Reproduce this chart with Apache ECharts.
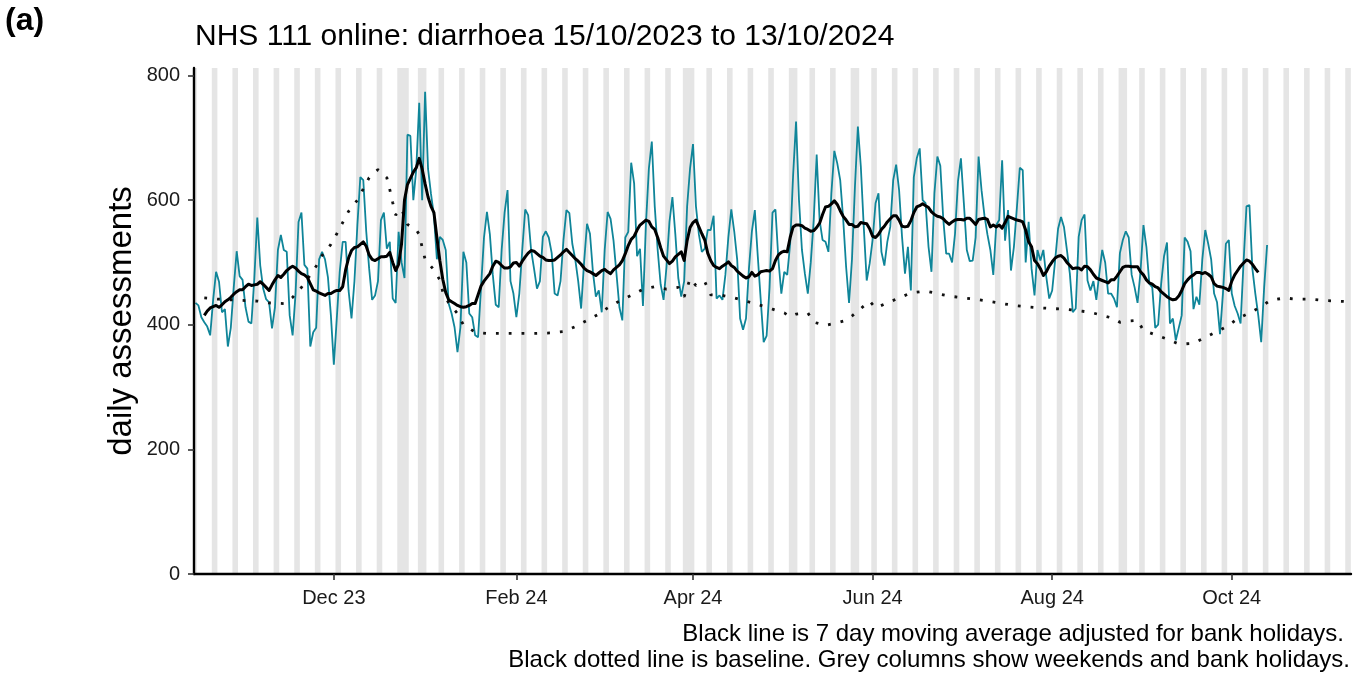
<!DOCTYPE html>
<html><head><meta charset="utf-8">
<script src="https://cdn.jsdelivr.net/npm/echarts@6/dist/echarts.min.js"></script>
<style>html,body{margin:0;padding:0;background:#fff}#chart{width:1360px;height:675px}</style>
</head><body><div id="chart"></div>
<script>
// ---------------- data ----------------
const panelLabel = '(a)';
const titleText = 'NHS 111 online: diarrhoea 15/10/2023 to 13/10/2024';
const yAxisTitle = 'daily assessments';
const captionLines = [
  'Black line is 7 day moving average adjusted for bank holidays.',
  'Black dotted line is baseline. Grey columns show weekends and bank holidays.'
];
const startDate = '2023-10-15';
const dailyAssessments = [
  435,431,412,404,397,383,440,485,469,420,
  425,365,395,460,518,478,472,428,405,402,
  475,572,495,458,441,436,394,428,520,544,
  520,517,415,383,450,565,580,496,490,365,
  388,395,505,517,505,476,415,336,410,485,
  533,533,455,410,470,560,637,632,550,490,
  440,447,470,568,580,522,533,442,435,549,
  500,475,705,703,600,650,756,600,774,650,
  610,575,505,541,536,520,434,418,396,356,
  396,517,500,418,412,383,380,460,540,581,
  545,480,432,428,520,580,616,470,450,412,
  450,520,585,576,520,490,458,470,541,550,
  540,515,450,447,470,536,584,579,530,505,
  470,426,500,562,546,485,445,455,420,520,
  581,570,535,482,428,407,540,549,660,627,
  510,522,430,560,650,694,590,520,465,440,
  493,565,605,545,475,445,470,590,651,690,
  590,545,517,522,552,552,575,442,447,440,
  480,540,585,550,505,410,392,410,490,550,
  584,510,440,372,382,460,580,585,505,450,
  485,480,530,640,726,600,520,482,450,500,
  568,673,568,536,533,517,611,679,659,632,
  570,493,435,505,621,718,654,557,471,498,
  536,595,611,517,495,533,557,632,657,616,
  541,482,525,455,637,667,683,600,595,525,
  485,611,670,655,570,514,514,500,546,630,
  667,595,520,502,503,540,670,616,575,545,
  520,480,560,568,664,535,584,487,525,587,
  652,648,500,565,490,447,520,503,520,477,
  442,455,503,554,573,557,520,482,420,426,
  541,568,577,471,455,470,440,482,520,500,
  450,450,442,428,515,536,550,540,480,460,
  435,485,560,525,466,460,395,400,465,510,
  532,402,410,375,395,415,540,533,518,425,
  445,432,505,552,530,505,450,436,385,450,
  530,536,450,430,418,402,500,590,592,490,
  450,415,372,460,528
];
const movingAverageStart = '2023-10-18';
const movingAverage = [
  415,422,427,429,431,428,432,
  437,440,444,449,453,456,456,461,465,463,
  464,465,469,465,460,455,464,472,479,476,
  481,487,491,494,491,486,482,480,476,466,
  456,454,451,449,447,450,450,453,455,455,
  461,488,507,519,524,525,529,533,526,512,
  505,503,506,509,509,510,516,500,487,497,
  530,600,625,635,645,652,667,650,626,605,
  590,580,540,503,473,452,440,437,434,431,
  429,428,429,431,434,434,448,462,470,476,
  482,494,502,500,495,491,491,493,499,500,
  494,502,509,515,519,518,514,510,508,504,
  503,503,504,508,512,517,521,516,511,506,
  502,497,491,487,485,482,479,483,487,489,
  485,482,488,492,496,503,514,527,537,542,
  552,560,564,568,566,557,553,540,524,510,
  504,498,502,509,513,517,503,535,556,564,
  568,557,546,536,515,503,495,492,490,494,
  497,501,495,492,486,482,478,475,477,484,
  478,480,485,486,487,486,490,503,512,516,
  518,517,540,557,560,560,559,555,553,550,
  551,556,563,577,589,590,594,599,593,583,
  574,568,561,561,557,558,564,563,562,554,
  542,540,545,553,558,565,570,575,575,568,
  558,557,558,567,580,589,591,594,591,588,
  581,577,574,573,570,565,561,565,568,569,
  569,568,571,571,566,561,569,570,571,569,
  557,560,557,560,555,564,574,572,570,568,
  567,565,552,533,525,503,498,490,479,485,
  494,501,507,510,511,507,500,495,490,491,
  491,488,494,493,488,481,475,473,471,469,
  467,472,472,478,485,492,494,494,493,493,
  493,485,480,472,467,465,461,459,453,449,
  445,442,440,441,446,455,466,472,477,480,
  484,484,482,484,481,477,466,462,461,460,
  458,455,470,480,487,494,499,504,502,497,
  490,484
];
const baselineDates = [
  '2023-10-18','2023-10-23','2023-10-31','2023-11-05','2023-11-09','2023-11-14','2023-11-17',
  '2023-11-20','2023-11-23','2023-11-25','2023-11-27','2023-11-30','2023-12-02','2023-12-04','2023-12-06',
  '2023-12-09','2023-12-11','2023-12-13','2023-12-16','2023-12-19','2023-12-20','2023-12-21','2023-12-22',
  '2023-12-24','2023-12-26','2023-12-29','2023-12-30','2023-12-31','2024-01-01','2024-01-04','2024-01-06',
  '2024-01-07','2024-01-09','2024-01-12','2024-01-14','2024-01-18','2024-01-22','2024-01-26','2024-01-31',
  '2024-02-04','2024-02-08','2024-02-13','2024-02-17','2024-02-21','2024-02-25','2024-02-29','2024-03-03',
  '2024-03-07','2024-03-11','2024-03-15','2024-03-19','2024-03-23','2024-03-27','2024-03-29','2024-03-30',
  '2024-03-31','2024-04-02','2024-04-05','2024-04-07','2024-04-11','2024-04-15','2024-04-19','2024-04-24',
  '2024-04-28','2024-05-02','2024-05-04','2024-05-06','2024-05-10','2024-05-12','2024-05-16','2024-05-20',
  '2024-05-23','2024-05-25','2024-05-28','2024-05-31','2024-06-02','2024-06-06','2024-06-10','2024-06-14',
  '2024-06-19','2024-06-23','2024-06-27','2024-07-02','2024-07-06','2024-07-10','2024-07-15','2024-07-19',
  '2024-07-23','2024-07-28','2024-08-01','2024-08-05','2024-08-09','2024-08-14','2024-08-18','2024-08-22',
  '2024-08-24','2024-08-27','2024-08-30','2024-09-01','2024-09-05','2024-09-09','2024-09-13','2024-09-18',
  '2024-09-22','2024-09-26','2024-09-30','2024-10-03','2024-10-07','2024-10-11','2024-10-14','2024-10-19',
  '2024-10-23','2024-10-28','2024-11-01','2024-11-05','2024-11-10'
];
const baselineValues = [
  443,441,439,438,435,434,444,
  460,480,494,511,529,546,564,582,
  600,618,636,649,636,617,596,576,
  586,561,552,545,524,505,488,472,
  453,435,418,400,388,386,386,386,
  386,386,387,389,397,407,417,427,
  438,447,457,461,457,460,445,459,
  474,463,469,448,447,443,438,431,
  425,419,413,417,419,404,399,403,
  407,414,426,438,427,435,443,451,
  454,450,446,443,441,438,434,431,
  429,427,426,425,423,420,415,410,
  404,406,407,391,384,377,369,370,
  380,389,399,410,419,429,439,443,
  441,441,439,438,437
];
const bankHolidays = ['2023-12-25','2023-12-26','2024-01-01','2024-03-29','2024-04-01','2024-05-06','2024-05-27','2024-08-26'];
const shadeFrom = '2023-10-14';
const shadeTo = '2024-11-10';
const xTickDates = ['2023-12-01','2024-02-01','2024-04-01','2024-06-01','2024-08-01','2024-10-01'];
const yTicks = [0, 200, 400, 600, 800];
const monthNames = ['Jan','Feb','Mar','Apr','May','Jun','Jul','Aug','Sep','Oct','Nov','Dec'];

// ---------------- build ----------------
const DAY = 86400000;
function ts(s) { const p = s.split('-').map(Number); return Date.UTC(p[0], p[1] - 1, p[2]); }
const t0 = ts(startDate);
const dailyData = dailyAssessments.map((v, i) => [t0 + i * DAY, v]);
const maStart = ts(movingAverageStart);
const maData = movingAverage.map((v, i) => [maStart + i * DAY, v]);
const baseData = baselineDates.map((d, i) => [ts(d), baselineValues[i]]);

const holidaySet = new Set(bankHolidays.map(ts));
const shadeRuns = [];
let runStart = null, prev = null;
for (let d = ts(shadeFrom); d <= ts(shadeTo); d += DAY) {
  const wd = new Date(d).getUTCDay();
  const grey = wd === 0 || wd === 6 || holidaySet.has(d);
  if (grey) { if (runStart === null) runStart = d; prev = d; }
  else if (runStart !== null) { shadeRuns.push([runStart - 0.45 * DAY, prev + 0.45 * DAY]); runStart = null; }
}
if (runStart !== null) shadeRuns.push([runStart - 0.45 * DAY, prev + 0.45 * DAY]);

const xMin = t0 - 0.5 * DAY;
const xMax = ts(shadeTo) + 0.5 * DAY;
const xTicks = xTickDates.map(ts);
const FONT = '"Liberation Sans", Arial, Helvetica, sans-serif';

const chart = echarts.init(document.getElementById('chart'), null, { renderer: 'canvas' });
chart.setOption({
  animation: false,
  backgroundColor: '#ffffff',
  textStyle: { fontFamily: FONT },
  grid: { left: 194, right: 9, top: 68, bottom: 101, containLabel: false },
  xAxis: {
    type: 'value', min: xMin, max: xMax, scale: true, z: 10,
    axisLine: { show: true, onZero: false, lineStyle: { color: '#000', width: 2.4 } },
    axisTick: { show: true, customValues: xTicks, length: 6, lineStyle: { color: '#333', width: 1.6 } },
    axisLabel: {
      customValues: xTicks, fontSize: 20, color: '#1a1a1a', margin: 14, fontFamily: FONT,
      formatter: v => { const d = new Date(v); return monthNames[d.getUTCMonth()] + ' ' + String(d.getUTCFullYear()).slice(2); }
    },
    splitLine: { show: false }
  },
  yAxis: {
    type: 'value', min: 0, max: 812, z: 10,
    axisLine: { show: true, lineStyle: { color: '#000', width: 2.4 } },
    axisTick: { show: true, customValues: yTicks, length: 6, lineStyle: { color: '#333', width: 1.6 } },
    axisLabel: { customValues: yTicks, fontSize: 20, color: '#1a1a1a', margin: 14, fontFamily: FONT },
    splitLine: { show: false }
  },
  series: [
    {
      type: 'custom', name: 'shade', z: 1, silent: true,
      data: shadeRuns,
      encode: { x: [0, 1] },
      renderItem: (params, api) => {
        const cs = params.coordSys;
        let x0 = api.coord([api.value(0), 0])[0];
        let x1 = api.coord([api.value(1), 0])[0];
        x0 = Math.max(x0, cs.x); x1 = Math.min(x1, cs.x + cs.width);
        if (x1 <= x0) return null;
        return { type: 'rect', shape: { x: x0, y: cs.y, width: x1 - x0, height: cs.height }, style: { fill: '#e5e5e5' } };
      }
    },
    {
      type: 'line', name: 'daily', z: 3, data: dailyData, showSymbol: false, symbol: 'none',
      lineStyle: { color: '#0f8599', width: 1.8 }
    },
    {
      type: 'line', name: 'baseline', z: 4, data: baseData, showSymbol: false, symbol: 'none', smooth: false,
      lineStyle: { color: '#111', width: 2.8, type: [2.8, 10], cap: 'butt' }
    },
    {
      type: 'line', name: 'ma', z: 5, data: maData, showSymbol: false, symbol: 'none',
      lineStyle: { color: '#000', width: 3, join: 'round' }
    }
  ],
  graphic: [
    { type: 'text', left: 5, top: 5, style: { text: panelLabel, font: 'bold 32px ' + FONT, fill: '#000' } },
    { type: 'text', x: 195, y: 37, style: { text: titleText, font: '30px ' + FONT, fill: '#000', textAlign: 'left', textVerticalAlign: 'middle' } },
    { type: 'text', x: 122, y: 321, rotation: Math.PI / 2, style: { text: yAxisTitle, font: '33px ' + FONT, fill: '#000', textAlign: 'center', textVerticalAlign: 'middle' } },
    { type: 'text', x: 1344, y: 634, style: { text: captionLines[0], font: '24px ' + FONT, fill: '#000', textAlign: 'right', textVerticalAlign: 'middle' } },
    { type: 'text', x: 1350, y: 660, style: { text: captionLines[1], font: '24px ' + FONT, fill: '#000', textAlign: 'right', textVerticalAlign: 'middle' } }
  ]
});
</script>
</body></html>
